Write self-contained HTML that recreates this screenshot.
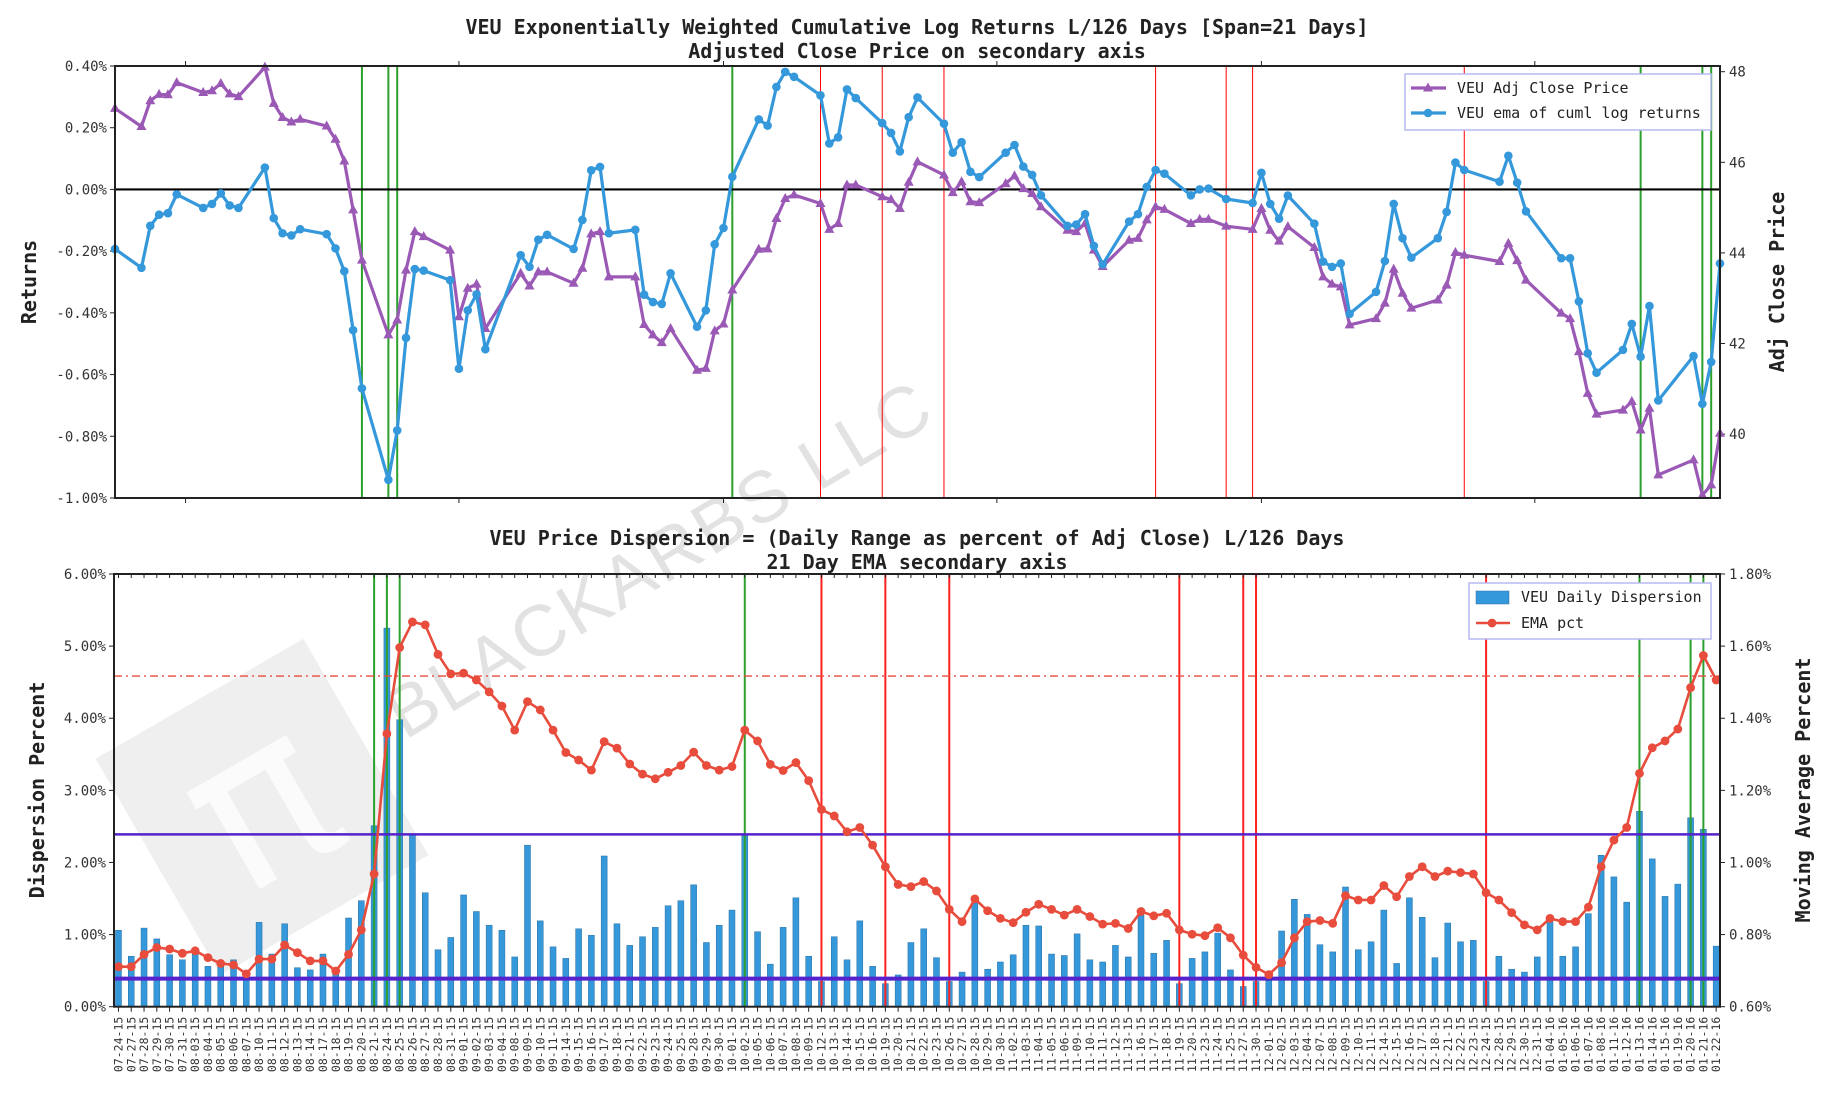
<!DOCTYPE html>
<html><head><meta charset="utf-8"><style>
html,body{margin:0;padding:0;background:#fff;}
svg{display:block;}
</style></head><body>
<svg id="chart" xmlns="http://www.w3.org/2000/svg" width="1825" height="1100" viewBox="0 0 1825 1100"></svg>
<script>
const dates = ["07-24-15","07-27-15","07-28-15","07-29-15","07-30-15","07-31-15","08-03-15","08-04-15","08-05-15","08-06-15","08-07-15","08-10-15","08-11-15","08-12-15","08-13-15","08-14-15","08-17-15","08-18-15","08-19-15","08-20-15","08-21-15","08-24-15","08-25-15","08-26-15","08-27-15","08-28-15","08-31-15","09-01-15","09-02-15","09-03-15","09-04-15","09-08-15","09-09-15","09-10-15","09-11-15","09-14-15","09-15-15","09-16-15","09-17-15","09-18-15","09-21-15","09-22-15","09-23-15","09-24-15","09-25-15","09-28-15","09-29-15","09-30-15","10-01-15","10-02-15","10-05-15","10-06-15","10-07-15","10-08-15","10-09-15","10-12-15","10-13-15","10-14-15","10-15-15","10-16-15","10-19-15","10-20-15","10-21-15","10-22-15","10-23-15","10-26-15","10-27-15","10-28-15","10-29-15","10-30-15","11-02-15","11-03-15","11-04-15","11-05-15","11-06-15","11-09-15","11-10-15","11-11-15","11-12-15","11-13-15","11-16-15","11-17-15","11-18-15","11-19-15","11-20-15","11-23-15","11-24-15","11-25-15","11-27-15","11-30-15","12-01-15","12-02-15","12-03-15","12-04-15","12-07-15","12-08-15","12-09-15","12-10-15","12-11-15","12-14-15","12-15-15","12-16-15","12-17-15","12-18-15","12-21-15","12-22-15","12-23-15","12-24-15","12-28-15","12-29-15","12-30-15","12-31-15","01-04-16","01-05-16","01-06-16","01-07-16","01-08-16","01-11-16","01-12-16","01-13-16","01-14-16","01-15-16","01-19-16","01-20-16","01-21-16","01-22-16"];
const price = [47.19,46.79,47.36,47.50,47.49,47.76,47.54,47.58,47.74,47.51,47.45,48.10,47.30,46.99,46.89,46.95,46.80,46.51,46.03,44.95,43.84,42.19,42.52,43.62,44.47,44.36,44.06,42.59,43.22,43.31,42.33,43.55,43.27,43.58,43.58,43.33,43.66,44.42,44.47,43.47,43.47,42.42,42.19,42.02,42.33,41.41,41.45,42.28,42.43,43.18,44.08,44.09,44.76,45.20,45.28,45.09,44.52,44.65,45.50,45.50,45.24,45.18,44.98,45.56,46.01,45.72,45.33,45.57,45.13,45.11,45.53,45.70,45.42,45.31,45.02,44.50,44.47,44.65,44.06,43.70,44.28,44.32,44.73,45.02,44.96,44.65,44.74,44.74,44.59,44.52,44.98,44.50,44.26,44.58,44.12,43.47,43.31,43.25,42.41,42.55,42.89,43.64,43.11,42.78,42.96,43.29,44.01,43.95,43.81,44.21,43.83,43.40,42.67,42.55,41.82,40.90,40.44,40.53,40.72,40.09,40.57,39.10,39.43,38.65,38.88,40.02];
const emaReturns = [-0.193,-0.254,-0.118,-0.082,-0.077,-0.016,-0.060,-0.047,-0.013,-0.052,-0.060,0.071,-0.093,-0.142,-0.149,-0.129,-0.145,-0.191,-0.265,-0.456,-0.645,-0.941,-0.781,-0.481,-0.258,-0.263,-0.294,-0.581,-0.392,-0.340,-0.518,-0.213,-0.251,-0.163,-0.147,-0.193,-0.099,0.062,0.073,-0.142,-0.131,-0.341,-0.365,-0.371,-0.272,-0.445,-0.392,-0.178,-0.125,0.041,0.227,0.207,0.332,0.381,0.365,0.305,0.149,0.169,0.324,0.296,0.215,0.183,0.123,0.234,0.298,0.213,0.119,0.153,0.057,0.040,0.119,0.144,0.074,0.047,-0.019,-0.118,-0.114,-0.080,-0.183,-0.243,-0.104,-0.080,0.008,0.063,0.051,-0.019,0.000,0.003,-0.031,-0.044,0.054,-0.047,-0.095,-0.020,-0.111,-0.234,-0.251,-0.240,-0.403,-0.332,-0.232,-0.047,-0.158,-0.221,-0.158,-0.073,0.087,0.063,0.025,0.109,0.022,-0.071,-0.223,-0.223,-0.363,-0.531,-0.594,-0.520,-0.436,-0.542,-0.378,-0.684,-0.540,-0.695,-0.559,-0.240];
const dispersion = [1.06,0.70,1.09,0.94,0.72,0.65,0.76,0.56,0.58,0.65,0.44,1.17,0.73,1.15,0.54,0.51,0.73,0.46,1.23,1.47,2.51,5.25,3.98,2.39,1.58,0.79,0.96,1.55,1.32,1.13,1.06,0.69,2.24,1.19,0.83,0.67,1.08,0.99,2.09,1.15,0.85,0.97,1.10,1.40,1.47,1.69,0.89,1.13,1.34,2.39,1.04,0.59,1.10,1.51,0.70,0.35,0.97,0.65,1.19,0.56,0.32,0.44,0.89,1.08,0.68,0.35,0.48,1.46,0.52,0.62,0.72,1.13,1.12,0.73,0.71,1.01,0.65,0.62,0.85,0.69,1.27,0.74,0.92,0.32,0.67,0.76,1.02,0.51,0.28,0.35,0.36,1.05,1.49,1.28,0.86,0.76,1.66,0.79,0.90,1.34,0.60,1.51,1.24,0.68,1.16,0.90,0.92,0.35,0.70,0.52,0.48,0.69,1.18,0.70,0.83,1.29,2.10,1.80,1.45,2.71,2.05,1.53,1.70,2.62,2.46,0.84];
const emaPct = [0.711,0.711,0.745,0.764,0.760,0.748,0.755,0.736,0.720,0.716,0.691,0.732,0.732,0.771,0.750,0.727,0.727,0.699,0.745,0.813,0.968,1.357,1.596,1.667,1.659,1.577,1.523,1.525,1.506,1.473,1.434,1.367,1.446,1.423,1.367,1.305,1.284,1.256,1.335,1.317,1.273,1.245,1.232,1.250,1.269,1.306,1.269,1.256,1.266,1.367,1.337,1.272,1.255,1.277,1.227,1.147,1.129,1.085,1.097,1.048,0.988,0.939,0.933,0.947,0.921,0.870,0.836,0.899,0.866,0.845,0.833,0.862,0.884,0.870,0.854,0.870,0.850,0.829,0.831,0.817,0.864,0.852,0.859,0.813,0.801,0.797,0.819,0.791,0.743,0.709,0.689,0.722,0.791,0.836,0.839,0.831,0.908,0.896,0.896,0.936,0.905,0.961,0.988,0.961,0.976,0.972,0.968,0.916,0.896,0.861,0.827,0.813,0.845,0.836,0.836,0.876,0.988,1.062,1.097,1.247,1.318,1.337,1.370,1.485,1.574,1.506];
const greenDates = ["08-21-15","08-24-15","08-25-15","10-02-15","01-13-16","01-20-16","01-21-16"];
const redDates = ["10-12-15","10-19-15","10-26-15","11-19-15","11-27-15","11-30-15","12-24-15"];
const retTicks = [0.4,0.2,0,-0.2,-0.4,-0.6,-0.8,-1.0];
const priceTicks = [48,46,44,42,40];
const dispTicks = [0,1,2,3,4,5,6];
const emaTicks = [0.6,0.8,1.0,1.2,1.4,1.6,1.8];
const monthTicks = ["08-01-15","09-01-15","10-01-15","11-01-15","12-01-15","01-01-16"];
const dispUpperLine = 2.39, dispLowerLine = 0.39, emaAlertLine = 1.517;

const NS="http://www.w3.org/2000/svg";
const svg=document.getElementById('chart');
function mk(tag,attrs,parent){const e=document.createElementNS(NS,tag);for(const k in attrs)e.setAttribute(k,attrs[k]);(parent||svg).appendChild(e);return e;}
function dayOff(s){const p=s.split('-');const d=new Date(2000+ +p[2],+p[0]-1,+p[1]);return Math.round((d-new Date(2015,6,24))/86400000);}
const MONO='"DejaVu Sans Mono","Liberation Mono",monospace';

const TL=115,TR=1720,TT=66,TB=498;
const totalDays=dayOff(dates[dates.length-1]);
const xT=d=>TL+d*(TR-TL)/totalDays;
const yRet=v=>TT+(0.4-v)/1.4*(TB-TT);
const yPrice=p=>71.7+(48-p)*45.3;
const BL=114,BR=1720,BT=574,BB=1006.7;
const xB=i=>BL+(i+0.35)*(BR-BL)/125.65;
const yDisp=v=>BB-v/6*(BB-BT);
const yEma=v=>BB-(v-0.6)/1.2*(BB-BT);

// watermark
const wm=mk('g',{transform:'translate(262,807) rotate(-30)'});


mk('rect',{x:-120,y:-125,width:240,height:250,fill:'#efefef'},wm);
const wpi=mk('text',{x:0,y:70,'text-anchor':'middle','font-size':220,fill:'#fbfbfb','font-family':'"DejaVu Sans",sans-serif'},wm);wpi.textContent='π';
const wt=mk('text',{x:0,y:0,transform:'translate(672,580) rotate(-31)','text-anchor':'middle','font-size':72,fill:'#e2e2e2','font-family':'"Liberation Sans",sans-serif','letter-spacing':'3'});


wt.textContent='BLACKARBS LLC';

function txt(x,y,s,opts,name){const t=mk('text',Object.assign({x:x,y:y,'font-family':MONO,fill:'#222'},opts||{}));t.textContent=s;return t;}
txt(917,34,'VEU Exponentially Weighted Cumulative Log Returns L/126 Days [Span=21 Days]',{'text-anchor':'middle','font-size':20,'font-weight':'bold'},'top-chart-title');
txt(917,58,'Adjusted Close Price on secondary axis',{'text-anchor':'middle','font-size':20,'font-weight':'bold'},'top-chart-subtitle');
txt(917,545,'VEU Price Dispersion = (Daily Range as percent of Adj Close) L/126 Days',{'text-anchor':'middle','font-size':20,'font-weight':'bold'},'bottom-chart-title');
txt(917,569,'21 Day EMA secondary axis',{'text-anchor':'middle','font-size':20,'font-weight':'bold'},'bottom-chart-subtitle');

txt(0,0,'Returns',{transform:'translate(36,282) rotate(-90)','text-anchor':'middle','font-size':20,'font-weight':'bold'},'top-y-axis-title');
txt(0,0,'Adj Close Price',{transform:'translate(1784,282) rotate(-90)','text-anchor':'middle','font-size':20,'font-weight':'bold'},'top-secondary-y-axis-title');
txt(0,0,'Dispersion Percent',{transform:'translate(44,790) rotate(-90)','text-anchor':'middle','font-size':20,'font-weight':'bold'},'bottom-y-axis-title');
txt(0,0,'Moving Average Percent',{transform:'translate(1810,790) rotate(-90)','text-anchor':'middle','font-size':20,'font-weight':'bold'},'bottom-secondary-y-axis-title');

retTicks.forEach(v=>{const y=yRet(v);mk('line',{x1:TL-5,x2:TL,y1:y,y2:y,stroke:'#222','stroke-width':1});
 txt(TL-8,y+5,(v<0?'-':'')+Math.abs(v).toFixed(2)+'%',{'text-anchor':'end','font-size':14,fill:'#333'},'top-y-tick-label');});
priceTicks.forEach(p=>{const y=yPrice(p);mk('line',{x1:TR,x2:TR+5,y1:y,y2:y,stroke:'#222','stroke-width':1});
 txt(TR+9,y+5,String(p),{'font-size':14,fill:'#333'},'price-tick-label');});
monthTicks.forEach(s=>{const x=xT(dayOff(s));mk('line',{x1:x,x2:x,y1:TT-5,y2:TT,stroke:'#222'});mk('line',{x1:x,x2:x,y1:TB,y2:TB+5,stroke:'#222'});});
greenDates.forEach(s=>{const x=xT(dayOff(s));const l=mk('line',{x1:x,x2:x,y1:TT,y2:TB,stroke:'#2ca02c','stroke-width':2});
 });
redDates.forEach(s=>{const x=xT(dayOff(s));const l=mk('line',{x1:x,x2:x,y1:TT,y2:TB,stroke:'#ff0000','stroke-width':1});
 });
const zl=mk('line',{x1:TL,x2:TR,y1:yRet(0),y2:yRet(0),stroke:'#000','stroke-width':2.2});


const pg=mk('g',{});


mk('polyline',{points:price.map((p,i)=>xT(dayOff(dates[i]))+','+yPrice(p)).join(' '),fill:'none',stroke:'#9b59b6','stroke-width':3.2,'stroke-linejoin':'round'},pg);
price.forEach((p,i)=>{const x=xT(dayOff(dates[i])),y=yPrice(p);const m=mk('polygon',{points:`${x},${y-5.5} ${x-5},${y+3.5} ${x+5},${y+3.5}`,fill:'#9b59b6'},pg);
 });
const rg=mk('g',{});


mk('polyline',{points:emaReturns.map((v,i)=>xT(dayOff(dates[i]))+','+yRet(v)).join(' '),fill:'none',stroke:'#3498db','stroke-width':3.2,'stroke-linejoin':'round'},rg);
emaReturns.forEach((v,i)=>{const c=mk('circle',{cx:xT(dayOff(dates[i])),cy:yRet(v),r:4.3,fill:'#3498db'},rg);
 });
const tf=mk('rect',{x:TL,y:TT,width:TR-TL,height:TB-TT,fill:'none',stroke:'#222','stroke-width':2});


const lg1=mk('g',{});


mk('rect',{x:1405,y:74,width:306,height:56,fill:'#fff',stroke:'#b8b8f4','stroke-width':1.5},lg1);
mk('line',{x1:1411,x2:1446,y1:88,y2:88,stroke:'#9b59b6','stroke-width':3.2},lg1);
mk('polygon',{points:'1428,82.5 1423,91.5 1433,91.5',fill:'#9b59b6'},lg1);
mk('line',{x1:1411,x2:1446,y1:113,y2:113,stroke:'#3498db','stroke-width':3.2},lg1);
mk('circle',{cx:1428,cy:113,r:4.3,fill:'#3498db'},lg1);
const le1=txt(1457,93,'VEU Adj Close Price',{'font-size':15,fill:'#222'},'legend-entry-price');lg1.appendChild(le1);
const le2=txt(1457,118,'VEU ema of cuml log returns',{'font-size':15,fill:'#222'},'legend-entry-returns');lg1.appendChild(le2);

dispTicks.forEach(v=>{const y=yDisp(v);mk('line',{x1:BL-5,x2:BL,y1:y,y2:y,stroke:'#222'});
 txt(BL-8,y+5,v.toFixed(2)+'%',{'text-anchor':'end','font-size':14,fill:'#333'},'dispersion-tick-label');});
emaTicks.forEach(v=>{const y=yEma(v);mk('line',{x1:BR,x2:BR+5,y1:y,y2:y,stroke:'#222'});
 txt(BR+9,y+5,v.toFixed(2)+'%',{'font-size':14,fill:'#333'},'ema-tick-label');});
const bars=mk('g',{});


dispersion.forEach((v,i)=>{const x=xB(i);const b=mk('rect',{x:x-3,y:yDisp(v),width:6,height:BB-yDisp(v),fill:'#3498db',stroke:'#2a6fa0','stroke-width':0.5},bars);
 });
greenDates.forEach(s=>{const x=xB(dates.indexOf(s));const l=mk('line',{x1:x,x2:x,y1:BT,y2:BB,stroke:'#2ca02c','stroke-width':2});
 });
redDates.forEach(s=>{const x=xB(dates.indexOf(s));const l=mk('line',{x1:x,x2:x,y1:BT,y2:BB,stroke:'#ff2020','stroke-width':2});
 });
const hu=mk('line',{x1:BL,x2:BR,y1:yDisp(dispUpperLine),y2:yDisp(dispUpperLine),stroke:'#5522cc','stroke-width':2.5});


const hl=mk('line',{x1:BL,x2:BR,y1:yDisp(dispLowerLine),y2:yDisp(dispLowerLine),stroke:'#5522cc','stroke-width':4});


const ha=mk('line',{x1:BL,x2:BR,y1:yEma(emaAlertLine),y2:yEma(emaAlertLine),stroke:'#e74c3c','stroke-width':1.3,'stroke-dasharray':'8 4 2 4'});


const eg=mk('g',{});


mk('polyline',{points:emaPct.map((v,i)=>xB(i)+','+yEma(v)).join(' '),fill:'none',stroke:'#e74c3c','stroke-width':2.6,'stroke-linejoin':'round'},eg);
emaPct.forEach((v,i)=>{const c=mk('circle',{cx:xB(i),cy:yEma(v),r:4.4,fill:'#e74c3c'},eg);
 });
dates.forEach((s,i)=>{const x=xB(i);mk('line',{x1:x,x2:x,y1:BT,y2:BT+4,stroke:'#222'});mk('line',{x1:x,x2:x,y1:BB,y2:BB+5,stroke:'#222'});
 txt(0,0,s,{transform:`translate(${x+4},${BB+10}) rotate(-90)`,'text-anchor':'end','font-size':11.5,fill:'#333'},'x-date-label');});
const bf=mk('rect',{x:BL,y:BT,width:BR-BL,height:BB-BT,fill:'none',stroke:'#222','stroke-width':2});


const lg2=mk('g',{});


mk('rect',{x:1469,y:583,width:242,height:56,fill:'#fff',stroke:'#b8b8f4','stroke-width':1.5},lg2);
mk('rect',{x:1476,y:591,width:33,height:13,fill:'#3498db',stroke:'#2a6fa0','stroke-width':0.5},lg2);
mk('line',{x1:1476,x2:1510,y1:623,y2:623,stroke:'#e74c3c','stroke-width':2.6},lg2);
mk('circle',{cx:1492,cy:623,r:4.4,fill:'#e74c3c'},lg2);
const le3=txt(1521,602,'VEU Daily Dispersion',{'font-size':15,fill:'#222'},'legend-entry-dispersion');lg2.appendChild(le3);
const le4=txt(1521,628,'EMA pct',{'font-size':15,fill:'#222'},'legend-entry-ema');lg2.appendChild(le4);
</script>
</body></html>
